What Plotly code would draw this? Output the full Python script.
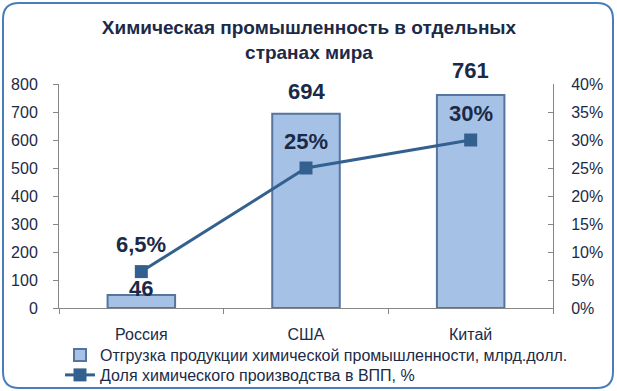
import plotly.graph_objects as go

categories = ["Россия", "США", "Китай"]
shipments = [46, 694, 761]            # млрд. долл.
share_gdp = [0.065, 0.25, 0.30]       # доля в ВПП
bar_labels = ["46", "694", "761"]
share_labels = ["6,5%", "25%", "30%"]
left_ticks = [0, 100, 200, 300, 400, 500, 600, 700, 800]
right_ticks = [0, 0.05, 0.10, 0.15, 0.20, 0.25, 0.30, 0.35, 0.40]
right_tick_text = ["0%", "5%", "10%", "15%", "20%", "25%", "30%", "35%", "40%"]

W, H = 617, 391
ML, MR, MT, MB = 59, 64, 84, 83
PW, PH = W - ML - MR, H - MT - MB

TXT = "#1b2a47"
FONT = "Liberation Sans, Arial, sans-serif"
AXC = "#868686"

fig = go.Figure()
fig.add_trace(go.Bar(
    x=categories, y=shipments,
    name="Отгрузка продукции химической промышленности, млрд.долл.",
    marker=dict(color="#a6c1e6", line=dict(color="#55759f", width=2)),
    yaxis="y", legend="legend",
))
fig.add_trace(go.Scatter(
    x=categories, y=share_gdp, mode="lines+markers",
    name="Доля химического производства в ВПП, %",
    line=dict(color="#33608f", width=3),
    marker=dict(symbol="square", size=13, color="#33608f"),
    yaxis="y2", legend="legend2",
))

bar_shift = [7, 22, 24]
for c, v, t, s in zip(categories, shipments, bar_labels, bar_shift):
    fig.add_annotation(x=c, y=v, xref="x", yref="y", text=t, showarrow=False,
                       yshift=s, yanchor="middle",
                       font=dict(family=FONT, size=22, color=TXT, weight="bold"))
for c, v, t in zip(categories, share_gdp, share_labels):
    fig.add_annotation(x=c, y=v, xref="x", yref="y2", text=t, showarrow=False,
                       yshift=27, yanchor="middle",
                       font=dict(family=FONT, size=22, color=TXT, weight="bold"))

# rounded chart border
def px(x):
    return (x - ML) / PW
def py(y):
    return (MT + PH - y) / PH
x0, x1, y0, y1, r = 3, 613, 3, 388, 16
path = (f"M {px(x0 + r)} {py(y0)} L {px(x1 - r)} {py(y0)} "
        f"Q {px(x1)} {py(y0)} {px(x1)} {py(y0 + r)} L {px(x1)} {py(y1 - r)} "
        f"Q {px(x1)} {py(y1)} {px(x1 - r)} {py(y1)} L {px(x0 + r)} {py(y1)} "
        f"Q {px(x0)} {py(y1)} {px(x0)} {py(y1 - r)} L {px(x0)} {py(y0 + r)} "
        f"Q {px(x0)} {py(y0)} {px(x0 + r)} {py(y0)} Z")
fig.add_shape(type="path", path=path, xref="paper", yref="paper",
              line=dict(color="#4a7ebb", width=2), layer="below")

legend_common = dict(xanchor="left", yanchor="top", orientation="v",
                     bgcolor="rgba(0,0,0,0)", itemwidth=30,
                     font=dict(family=FONT, size=16, color=TXT))

fig.update_layout(
    width=W, height=H,
    margin=dict(l=ML, r=MR, t=MT, b=MB, autoexpand=False),
    paper_bgcolor="white", plot_bgcolor="white",
    font=dict(family=FONT, size=16, color=TXT),
    title=dict(text="Химическая промышленность в отдельных<br>странах мира",
               x=309 / W, xanchor="center", xref="container",
               y=1 - 34 / H, yanchor="top", yref="container",
               font=dict(family=FONT, size=19, color=TXT, weight="bold")),
    bargap=0.59,
    showlegend=True,
    legend=dict(x=px(60), y=py(338), **legend_common),
    legend2=dict(x=px(60), y=py(358), **legend_common),
    xaxis=dict(type="category", showline=True, linecolor=AXC, linewidth=1,
               ticks="outside", tickson="boundaries", ticklen=5, tickcolor=AXC,
               ticklabelstandoff=12, showgrid=False, zeroline=False),
    yaxis=dict(range=[0, 800], tickvals=left_ticks, showline=True, linecolor=AXC,
               ticks="outside", ticklen=5, tickcolor=AXC, showgrid=False,
               zeroline=False, ticklabelstandoff=12),
    yaxis2=dict(range=[0, 0.4], tickvals=right_ticks, ticktext=right_tick_text,
                overlaying="y", side="right", showline=True, linecolor=AXC,
                ticks="inside", ticklen=5, tickcolor=AXC, showgrid=False,
                zeroline=False, ticklabelstandoff=14),
)

fig.write_html("out.html", config={"displayModeBar": False},
               post_script="document.body.style.margin='0';document.body.style.overflow='hidden';")
